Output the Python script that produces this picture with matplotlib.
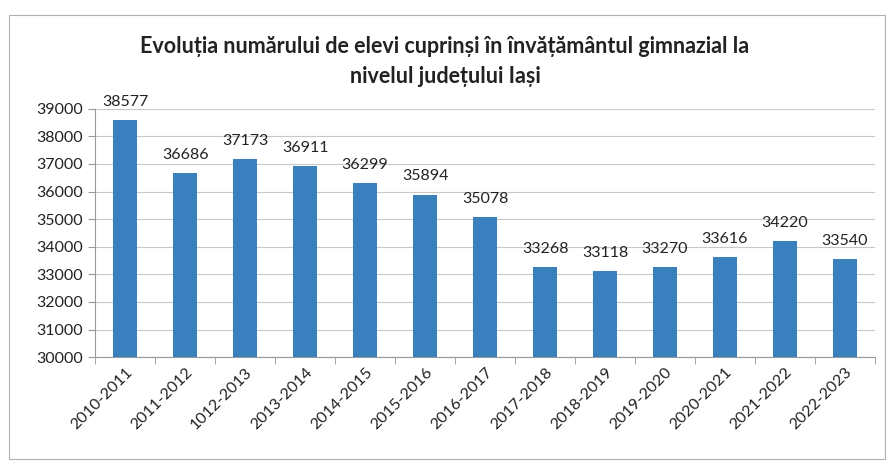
import numpy as np
import matplotlib.pyplot as plt
from matplotlib.patches import Rectangle

plt.rcParams['font.family'] = ['Lato', 'DejaVu Sans']

years = ['2010-2011', '2011-2012', '1012-2013', '2013-2014', '2014-2015',
         '2015-2016', '2016-2017', '2017-2018', '2018-2019', '2019-2020',
         '2020-2021', '2021-2022', '2022-2023']
elevi = [38577, 36686, 37173, 36911, 36299, 35894, 35078,
         33268, 33118, 33270, 33616, 34220, 33540]
yticks = list(range(30000, 39001, 1000))

title = 'Evoluția numărului de elevi cuprinși în învățământul gimnazial la\nnivelul județului Iași'

fig = plt.figure(figsize=(8.9, 4.65), dpi=100)
# chart border like the excel frame
fig.patches.append(Rectangle((0.01, 0.012), 0.984, 0.955, transform=fig.transFigure,
                             fill=False, edgecolor='#b0b0b0', linewidth=0.8))

ax = fig.add_axes([0.107, 0.232, 0.876, 0.534])
x = np.arange(len(years))
bars = ax.bar(x, elevi, width=0.4, color='#3a7fbe', zorder=3)

for xi, v in zip(x, elevi):
    ax.annotate(str(v), (xi, v), xytext=(0, 8), textcoords='offset points',
                ha='center', va='bottom', fontsize=11.5, color='#222222')

ax.set_ylim(30000, 39000)
ax.set_xlim(-0.5, len(years) - 0.5)
ax.set_yticks(yticks)
ax.set_yticklabels([str(t) for t in yticks], fontsize=11.5, color='#222222')
ax.set_xticks(x)
ax.set_xticklabels(years, rotation=45, ha='right', rotation_mode='anchor',
                   fontsize=11.5, color='#222222')
ax.set_xticks(np.arange(-0.5, len(years)), minor=True)
ax.tick_params(axis='x', which='major', length=0, pad=6)
ax.tick_params(axis='x', which='minor', length=5, color='#999999')
ax.tick_params(axis='y', length=5, color='#999999', pad=4)

ax.grid(axis='y', color='#c8c8c8', linewidth=0.8, zorder=0)
for s in ['top', 'right']:
    ax.spines[s].set_visible(False)
ax.spines['left'].set_color('#999999')
ax.spines['bottom'].set_color('#999999')

fig.text(0.5, 0.868, title, ha='center', va='center', fontsize=15.5,
         fontweight='bold', color='#222222', linespacing=1.5)

fig.savefig('out.png', dpi=100)
